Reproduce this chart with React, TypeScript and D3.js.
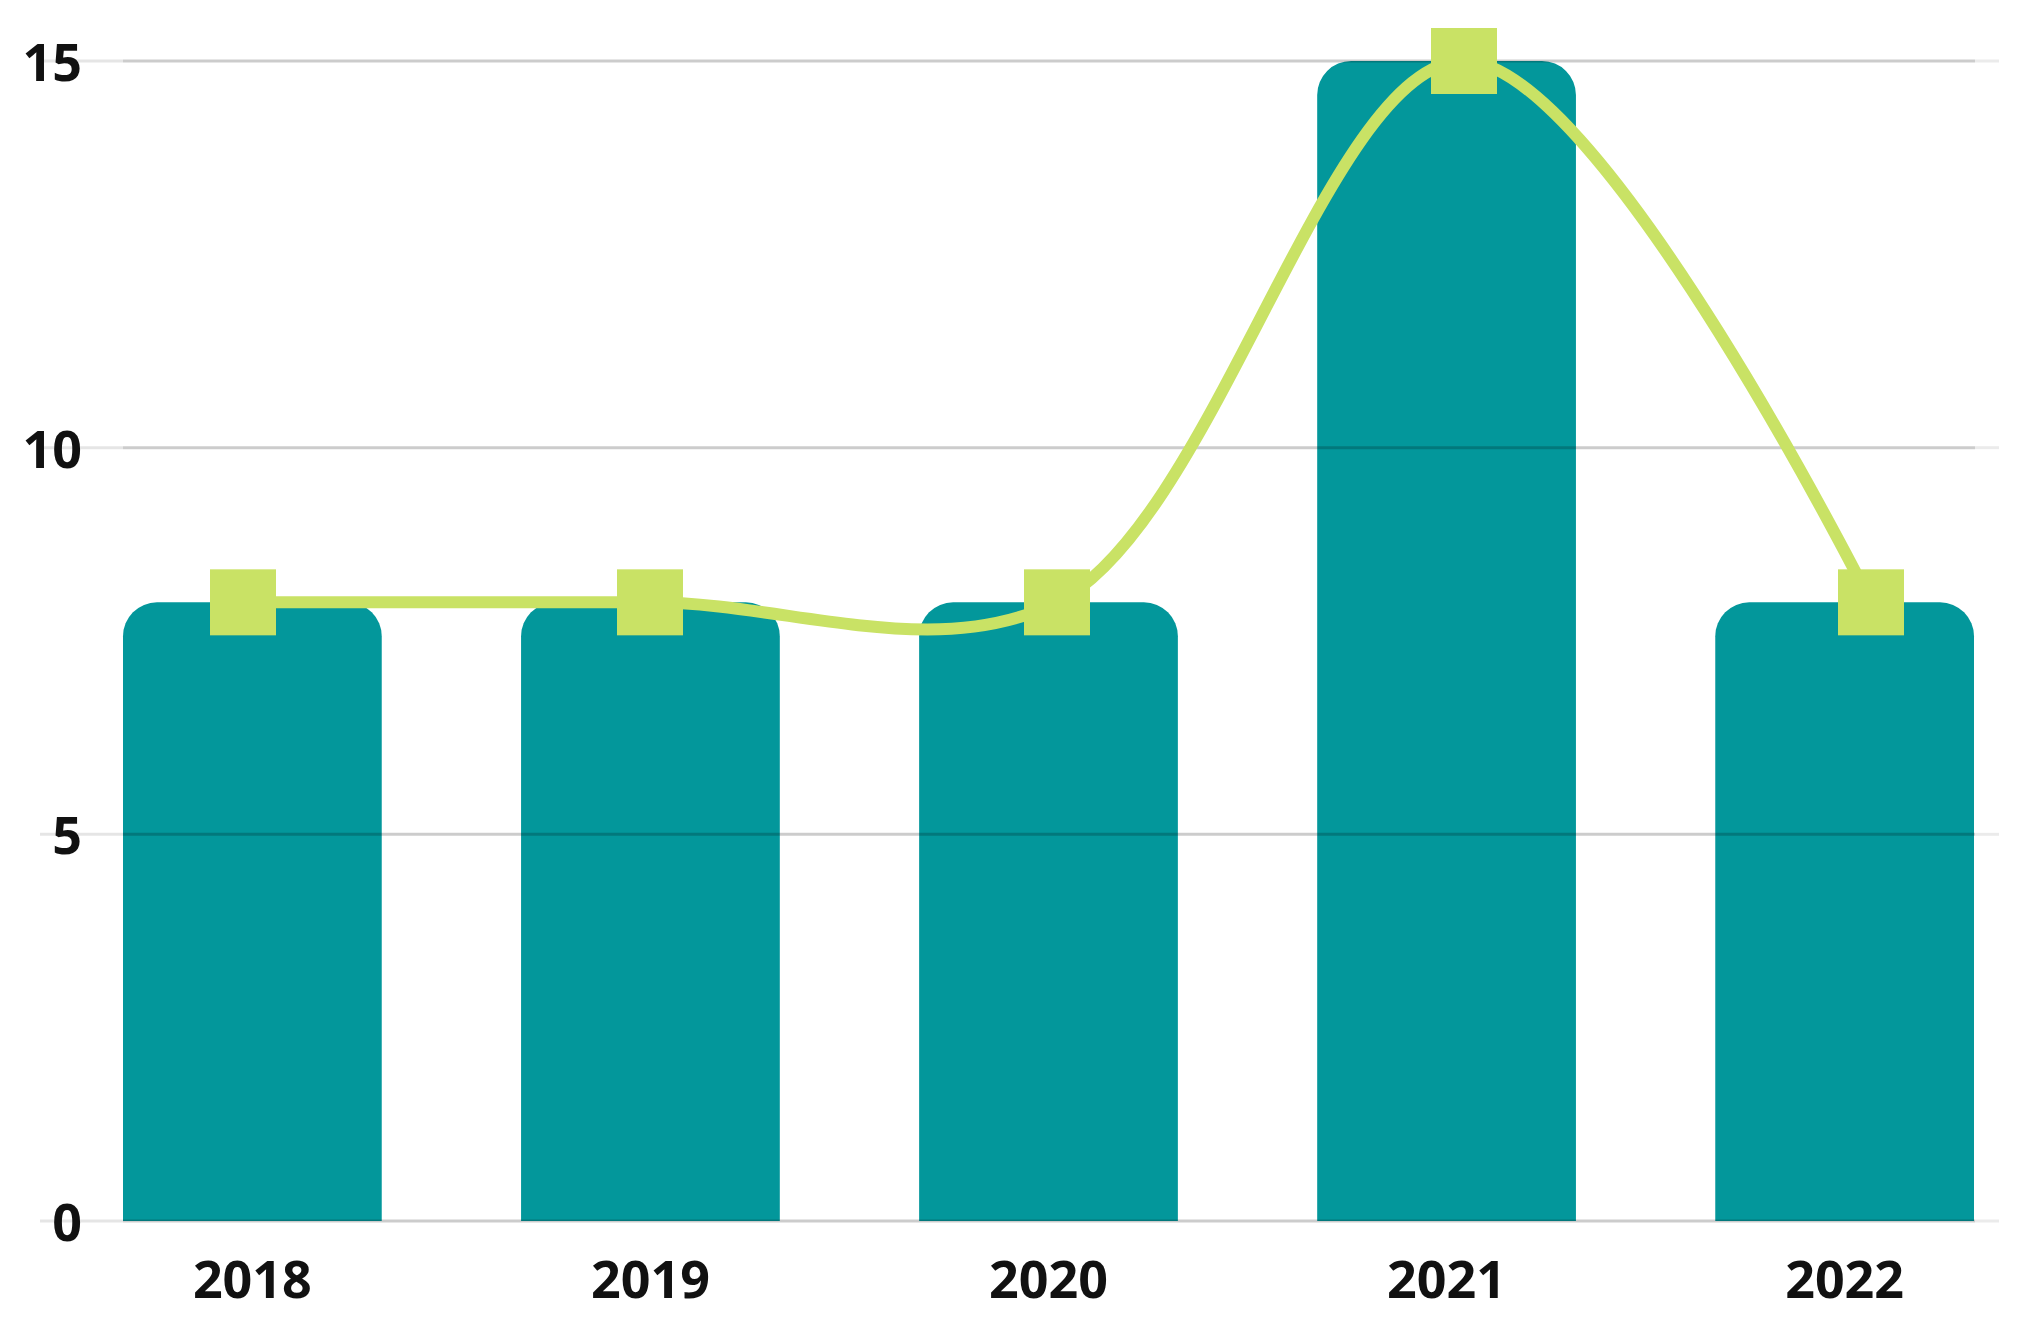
import React from "react";
import * as d3 from "d3";

const years = ["2018", "2019", "2020", "2021", "2022"];
const barValues = [8, 8, 8, 15, 8];
const lineValues = [8, 8, 8, 15, 8];
const yTicks = [0, 5, 10, 15];

const W = 2026;
const H = 1328;

const BAR_COLOR = "#03979B";
const LINE_COLOR = "#C9E265";

function roundedTopBar(x: number, y: number, w: number, h: number, r: number) {
  const rr = Math.min(r, w / 2, h);
  return `M${x},${y + h}V${y + rr}A${rr},${rr} 0 0 1 ${x + rr},${y}H${x + w - rr}A${rr},${rr} 0 0 1 ${x + w},${y + rr}V${y + h}Z`;
}

export default function App() {
  const xBand = d3.scaleBand<string>().domain(years).range([123, 1974]).paddingInner(0.35).paddingOuter(0);
  const xPoint = d3.scalePoint<string>().domain(years).range([243, 1871]);
  const y = d3.scaleLinear().domain([0, 15]).range([1221, 61]);

  const line = d3
    .line<number>()
    .x((_, i) => xPoint(years[i]) as number)
    .y((d) => y(d))
    .curve(d3.curveCatmullRom.alpha(0.5));

  const gridL = 40;
  const gridR = 1999;
  const plotL = 123;
  const plotR = 1975;
  const sq = 66;
  const font = "'Open Sans', 'Liberation Sans', Arial, sans-serif";

  return (
    <svg
      width={W}
      height={H}
      style={{ position: "absolute", left: 0, top: 0, background: "#fff" }}
    >
      <rect x={0} y={0} width={W} height={H} fill="#fff" />
      {years.map((yr, i) => (
        <path
          key={yr}
          d={roundedTopBar(xBand(yr) as number, y(barValues[i]), xBand.bandwidth(), y(0) - y(barValues[i]), 34)}
          fill={BAR_COLOR}
        />
      ))}
      {yTicks.map((t) => (
        <g key={t}>
          <line x1={gridL} x2={plotL} y1={y(t)} y2={y(t)} stroke="rgba(0,0,0,0.1)" strokeWidth={3} />
          <line x1={plotL} x2={plotR} y1={y(t)} y2={y(t)} stroke="rgba(0,0,0,0.2)" strokeWidth={3} />
          <line x1={plotR} x2={gridR} y1={y(t)} y2={y(t)} stroke="rgba(0,0,0,0.08)" strokeWidth={3} />
          <text
            x={82}
            y={y(t) + 20}
            textAnchor="end"
            fontFamily={font}
            fontWeight={700}
            fontSize={52}
            fill="#111"
          >
            {t}
          </text>
        </g>
      ))}
      <path d={line(lineValues) || ""} fill="none" stroke={LINE_COLOR} strokeWidth={12} />
      {years.map((yr, i) => (
        <rect
          key={yr}
          x={(xPoint(yr) as number) - sq / 2}
          y={y(lineValues[i]) - sq / 2}
          width={sq}
          height={sq}
          fill={LINE_COLOR}
        />
      ))}
      {years.map((yr) => (
        <text
          key={yr}
          x={(xBand(yr) as number) + xBand.bandwidth() / 2}
          y={1298}
          textAnchor="middle"
          fontFamily={font}
          fontWeight={700}
          fontSize={52}
          fill="#111"
        >
          {yr}
        </text>
      ))}
    </svg>
  );
}
